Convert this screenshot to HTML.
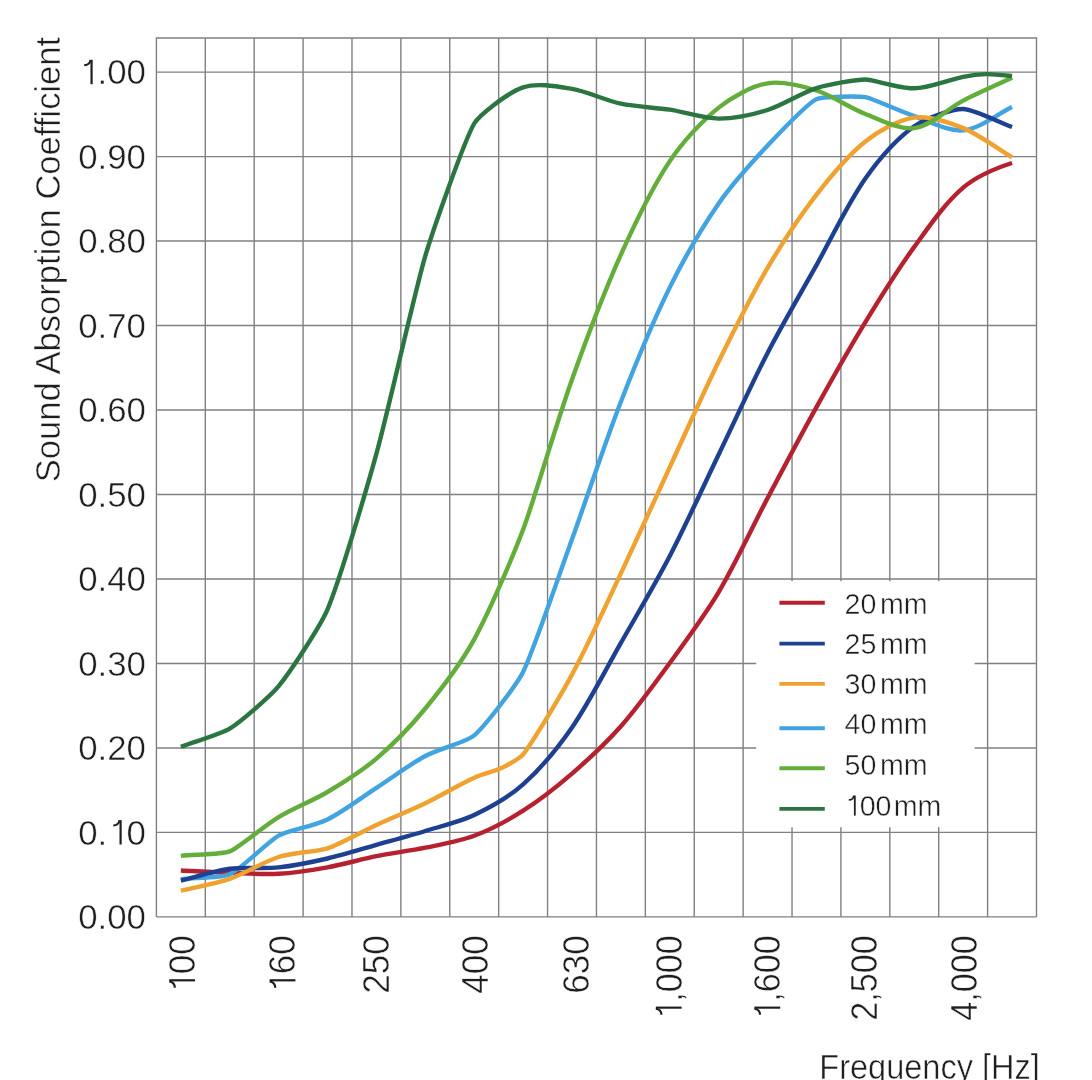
<!DOCTYPE html>
<html lang="en">
<head>
<meta charset="utf-8">
<title>Sound Absorption Coefficient vs Frequency</title>
<style>
html,body{margin:0;padding:0;background:#ffffff;}
body{width:1092px;height:1080px;position:relative;overflow:hidden;font-family:"Liberation Sans",sans-serif;}
svg text{font-family:"Liberation Sans",sans-serif;fill:#1e1e1e;}
.ax{font-size:34.8px;stroke:#ffffff;stroke-width:0.5px;}
.xl{font-size:36.8px;}
.h{fill:none;stroke:none;}
.lg{font-size:28.6px;stroke:#ffffff;stroke-width:0.45px;}
</style>
</head>
<body>
<svg width="1092" height="1080" viewBox="0 0 1092 1080" style="display:block;position:absolute;left:0;top:0;filter:blur(0.55px)">
<rect width="1092" height="1080" fill="#ffffff"/>
<path d="M156.40,38.00V916.90M205.29,38.00V916.90M254.19,38.00V916.90M303.08,38.00V916.90M351.98,38.00V916.90M400.87,38.00V916.90M449.77,38.00V916.90M498.66,38.00V916.90M547.56,38.00V916.90M596.45,38.00V916.90M645.34,38.00V916.90M694.24,38.00V916.90M743.13,38.00V916.90M792.03,38.00V916.90M840.92,38.00V916.90M889.82,38.00V916.90M938.71,38.00V916.90M987.61,38.00V916.90M1036.50,38.00V916.90M156.40,72.10H1036.50M156.40,156.58H1036.50M156.40,241.06H1036.50M156.40,325.54H1036.50M156.40,410.02H1036.50M156.40,494.50H1036.50M156.40,578.98H1036.50M156.40,663.46H1036.50M156.40,747.94H1036.50M156.40,832.42H1036.50M156.40,916.90H1036.50M155.70,38.00H1037.20" fill="none" stroke="#808080" stroke-width="1.4"/>
<rect x="756.2" y="581.2" width="218.4" height="246.0" fill="#ffffff"/>
<path d="M180.85,870.50C195.52,871.22 215.06,872.40 229.74,872.90C244.40,873.39 263.99,874.64 278.64,873.80C293.41,872.95 312.97,869.92 327.53,867.30C342.33,864.64 361.68,859.16 376.43,856.20C391.02,853.27 410.74,850.74 425.32,847.70C440.10,844.62 460.09,841.14 474.21,835.80C489.64,829.97 509.20,819.55 523.11,810.70C538.64,800.82 558.06,785.63 572.00,773.60C587.45,760.27 607.38,741.59 620.90,726.30C636.79,708.32 655.66,682.39 669.79,663.00C685.01,642.12 705.51,614.32 718.69,592.10C734.90,564.76 752.73,526.20 767.58,498.10C782.06,470.70 801.42,434.19 816.48,407.10C830.76,381.38 850.04,347.21 865.37,322.10C879.39,299.13 898.43,268.66 914.26,246.90C927.82,228.27 943.93,204.20 963.16,187.70C976.88,175.93 993.79,168.84 1012.05,163.00" fill="none" stroke="#b5212f" stroke-width="4.4" stroke-linejoin="round"/>
<path d="M180.85,879.10C195.52,877.66 220.76,878.29 229.74,874.30C241.14,869.23 267.76,841.71 278.64,835.60C287.62,830.56 313.64,826.17 327.53,819.40C343.21,811.75 361.78,797.39 376.43,787.90C391.12,778.37 409.89,764.28 425.32,756.00C439.34,748.47 466.17,742.32 474.21,735.40C486.37,724.95 517.39,683.38 523.11,671.90C533.20,651.66 557.57,579.17 572.00,539.30C586.91,498.11 605.04,442.54 620.90,401.70C634.39,366.93 653.29,320.85 669.79,287.40C682.68,261.27 702.15,227.48 718.69,203.50C731.59,184.78 752.04,162.19 767.58,145.60C781.42,130.83 808.61,102.99 816.48,99.10C822.18,96.28 859.10,96.11 865.37,97.20C872.08,98.37 899.37,111.04 914.26,116.10C928.74,121.01 947.94,131.80 963.16,130.40C979.34,128.91 997.38,114.09 1012.05,107.10" fill="none" stroke="#41a3e0" stroke-width="4.4" stroke-linejoin="round"/>
<path d="M180.85,880.60C195.52,877.06 214.79,870.82 229.74,868.80C244.28,866.84 264.04,868.94 278.64,867.40C293.46,865.84 313.00,861.84 327.53,858.50C342.37,855.09 361.77,849.02 376.43,844.90C391.11,840.77 410.74,835.46 425.32,831.00C440.08,826.49 460.28,821.64 474.21,815.00C489.83,807.56 510.21,795.94 523.11,784.40C539.88,769.39 559.21,746.02 572.00,727.50C588.67,703.38 606.38,668.37 620.90,642.90C635.71,616.91 656.01,582.55 669.79,556.00C685.36,526.00 704.02,484.95 718.69,454.50C733.36,424.02 752.06,382.96 767.58,352.90C781.41,326.11 801.73,291.40 816.48,265.10C831.07,239.08 848.19,202.89 865.37,178.50C877.73,160.96 896.77,138.73 914.26,126.30C926.95,117.29 952.79,108.93 963.16,109.00C973.58,109.07 997.38,121.60 1012.05,127.00" fill="none" stroke="#1d4190" stroke-width="4.4" stroke-linejoin="round"/>
<path d="M180.85,890.70C195.52,887.16 215.48,883.82 229.74,878.90C244.94,873.66 263.30,861.80 278.64,857.00C292.85,852.55 317.15,851.70 327.53,848.30C338.86,844.59 361.67,831.81 376.43,825.00C391.01,818.27 410.86,810.19 425.32,803.20C440.21,796.00 459.19,784.63 474.21,777.70C481.95,774.13 494.59,771.34 501.00,768.30C506.89,765.51 520.59,757.82 523.11,754.50C532.16,742.55 558.65,699.33 572.00,674.60C588.02,644.93 606.52,603.90 620.90,573.40C635.86,541.65 655.08,498.97 669.79,467.10C684.42,435.40 703.30,392.84 718.69,361.50C732.65,333.06 751.57,295.23 767.58,267.90C780.94,245.09 800.31,215.51 816.48,194.60C829.73,177.45 848.34,154.81 865.37,141.40C878.19,131.31 898.10,119.80 914.26,117.60C929.13,115.58 949.26,122.46 963.16,128.10C978.99,134.53 997.38,148.54 1012.05,157.30" fill="none" stroke="#efa230" stroke-width="4.4" stroke-linejoin="round"/>
<path d="M180.85,855.90C195.52,854.55 222.44,854.30 229.74,851.40C238.62,847.88 263.32,826.40 278.64,817.10C292.73,808.54 313.38,800.46 327.53,792.00C342.77,782.88 362.92,770.14 376.43,758.60C392.40,744.96 412.00,724.74 425.32,708.50C441.43,688.87 462.03,661.68 474.21,639.40C491.51,607.76 515.49,549.85 523.11,529.60C533.11,503.02 556.14,424.19 572.00,379.60C585.49,341.69 604.46,291.43 620.90,254.70C633.84,225.78 652.25,187.48 669.79,161.10C681.83,142.99 701.67,121.14 718.69,107.60C731.50,97.40 751.45,86.12 767.58,83.30C782.19,80.75 802.33,86.06 816.48,90.50C832.00,95.37 850.18,108.16 865.37,114.00C879.62,119.48 899.14,130.17 914.26,128.10C930.94,125.82 948.19,108.30 963.16,100.60C977.55,93.20 997.38,84.64 1012.05,77.80" fill="none" stroke="#63ae3b" stroke-width="4.4" stroke-linejoin="round"/>
<path d="M180.85,746.80C195.52,741.37 220.88,734.19 229.74,728.70C240.76,721.87 270.42,696.22 278.64,686.20C290.18,672.12 320.47,626.19 327.53,609.40C340.19,579.29 366.85,488.22 376.43,453.60C388.37,410.40 414.90,290.97 425.32,255.80C432.53,231.46 464.30,140.58 474.21,123.50C478.49,116.14 505.92,93.48 523.11,87.40C536.94,82.50 557.53,86.49 572.00,88.90C587.12,91.42 605.91,100.51 620.90,103.70C635.35,106.77 655.18,107.47 669.79,109.70C684.53,111.95 703.78,118.55 718.69,118.60C733.58,118.65 753.36,114.43 767.58,110.00C782.92,105.21 801.13,92.89 816.48,88.10C830.69,83.67 857.43,79.48 865.37,79.50C873.32,79.52 899.37,88.70 914.26,88.30C929.32,87.90 943.55,81.21 963.16,76.90C982.26,72.70 992.59,74.05 1012.05,76.00" fill="none" stroke="#2b7541" stroke-width="4.4" stroke-linejoin="round"/>
<line x1="779.4" y1="602.8" x2="824.8" y2="602.8" stroke="#b5212f" stroke-width="3.9"/>
<text x="844.6" y="613.9" class="lg">20</text><text x="880.0" y="613.9" class="lg">mm</text>
<line x1="779.4" y1="643.6" x2="824.8" y2="643.6" stroke="#1d4190" stroke-width="3.9"/>
<text x="844.6" y="653.9" class="lg">25</text><text x="880.0" y="653.9" class="lg">mm</text>
<line x1="779.4" y1="683.9" x2="824.8" y2="683.9" stroke="#efa230" stroke-width="3.9"/>
<text x="844.6" y="693.9" class="lg">30</text><text x="880.0" y="693.9" class="lg">mm</text>
<line x1="779.4" y1="728.3" x2="824.8" y2="728.3" stroke="#41a3e0" stroke-width="3.9"/>
<text x="844.6" y="734.4" class="lg">40</text><text x="880.0" y="734.4" class="lg">mm</text>
<line x1="779.4" y1="768.3" x2="824.8" y2="768.3" stroke="#63ae3b" stroke-width="3.9"/>
<text x="844.6" y="774.7" class="lg">50</text><text x="880.0" y="774.7" class="lg">mm</text>
<line x1="779.4" y1="808.9" x2="824.8" y2="808.9" stroke="#2b7541" stroke-width="3.9"/>
<text x="843.8" y="815.6" class="lg"><tspan class="h">1</tspan>00</text><text x="893.8" y="815.6" class="lg">mm</text>
<g transform="translate(843.80,815.60) scale(28.600,28.600)" fill="none" stroke="#1e1e1e" stroke-width="0.063"><path d="M.385,0V-.700"/><path d="M.175,-.548C.275,-.548 .34,-.60 .354,-.700" stroke-width="0.058"/></g>
<text x="145.9" y="84.2" text-anchor="end" class="ax"><tspan class="h">1</tspan>.00</text>
<g transform="translate(78.17,84.20) scale(34.800,34.800)" fill="none" stroke="#1e1e1e" stroke-width="0.063"><path d="M.385,0V-.700"/><path d="M.175,-.548C.275,-.548 .34,-.60 .354,-.700" stroke-width="0.058"/></g>
<text x="145.9" y="168.7" text-anchor="end" class="ax">0.90</text>
<text x="145.9" y="253.2" text-anchor="end" class="ax">0.80</text>
<text x="145.9" y="337.6" text-anchor="end" class="ax">0.70</text>
<text x="145.9" y="422.1" text-anchor="end" class="ax">0.60</text>
<text x="145.9" y="506.6" text-anchor="end" class="ax">0.50</text>
<text x="145.9" y="591.1" text-anchor="end" class="ax">0.40</text>
<text x="145.9" y="675.6" text-anchor="end" class="ax">0.30</text>
<text x="145.9" y="760.0" text-anchor="end" class="ax">0.20</text>
<text x="145.9" y="844.5" text-anchor="end" class="ax">0.<tspan class="h">1</tspan>0</text>
<g transform="translate(107.19,844.52) scale(34.800,34.800)" fill="none" stroke="#1e1e1e" stroke-width="0.063"><path d="M.385,0V-.700"/><path d="M.175,-.548C.275,-.548 .34,-.60 .354,-.700" stroke-width="0.058"/></g>
<text x="145.9" y="929.0" text-anchor="end" class="ax">0.00</text>
<g transform="translate(195.0,935.3) rotate(-90)"><text text-anchor="end" class="ax xl" textLength="58.5" lengthAdjust="spacingAndGlyphs"><tspan class="h">1</tspan>00</text><g transform="translate(-58.50,0.00) scale(35.062,36.800)" fill="none" stroke="#1e1e1e" stroke-width="0.063"><path d="M.385,0V-.700"/><path d="M.175,-.548C.275,-.548 .34,-.60 .354,-.700" stroke-width="0.058"/></g></g>
<g transform="translate(295.4,935.3) rotate(-90)"><text text-anchor="end" class="ax xl" textLength="58.5" lengthAdjust="spacingAndGlyphs"><tspan class="h">1</tspan>60</text><g transform="translate(-58.50,0.00) scale(35.062,36.800)" fill="none" stroke="#1e1e1e" stroke-width="0.063"><path d="M.385,0V-.700"/><path d="M.175,-.548C.275,-.548 .34,-.60 .354,-.700" stroke-width="0.058"/></g></g>
<g transform="translate(388.6,935.3) rotate(-90)"><text text-anchor="end" class="ax xl" textLength="58.5" lengthAdjust="spacingAndGlyphs">250</text></g>
<g transform="translate(488.0,935.3) rotate(-90)"><text text-anchor="end" class="ax xl" textLength="58.5" lengthAdjust="spacingAndGlyphs">400</text></g>
<g transform="translate(589.4,935.3) rotate(-90)"><text text-anchor="end" class="ax xl" textLength="58.5" lengthAdjust="spacingAndGlyphs">630</text></g>
<g transform="translate(681.6,935.3) rotate(-90)"><text text-anchor="end" class="ax xl" textLength="85.5" lengthAdjust="spacingAndGlyphs"><tspan class="h">1</tspan>,000</text><g transform="translate(-85.50,0.00) scale(34.167,36.800)" fill="none" stroke="#1e1e1e" stroke-width="0.063"><path d="M.385,0V-.700"/><path d="M.175,-.548C.275,-.548 .34,-.60 .354,-.700" stroke-width="0.058"/></g></g>
<g transform="translate(780.2,935.3) rotate(-90)"><text text-anchor="end" class="ax xl" textLength="85.5" lengthAdjust="spacingAndGlyphs"><tspan class="h">1</tspan>,600</text><g transform="translate(-85.50,0.00) scale(34.167,36.800)" fill="none" stroke="#1e1e1e" stroke-width="0.063"><path d="M.385,0V-.700"/><path d="M.175,-.548C.275,-.548 .34,-.60 .354,-.700" stroke-width="0.058"/></g></g>
<g transform="translate(876.7,935.3) rotate(-90)"><text text-anchor="end" class="ax xl" textLength="85.5" lengthAdjust="spacingAndGlyphs">2,500</text></g>
<g transform="translate(977.2,935.3) rotate(-90)"><text text-anchor="end" class="ax xl" textLength="85.5" lengthAdjust="spacingAndGlyphs">4,000</text></g>
<text transform="translate(60,482.3) rotate(-90)" class="ax" textLength="445.5" lengthAdjust="spacingAndGlyphs">Sound Absorption Coefficient</text>
<text x="1039.8" y="1078.5" text-anchor="end" class="ax" textLength="220.5" lengthAdjust="spacingAndGlyphs">Frequency [Hz]</text>
</svg>
</body>
</html>
